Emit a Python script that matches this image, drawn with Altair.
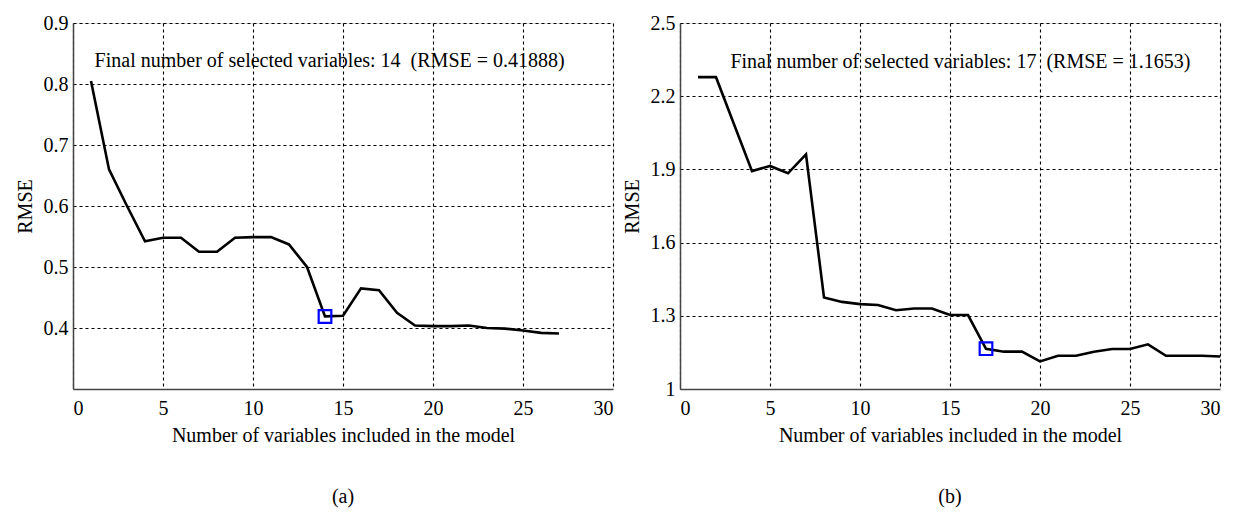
import altair as alt
import pandas as pd

# ---- data ----
n_vars_a = list(range(1, 28))
rmse_a = [0.805, 0.660, 0.600, 0.542, 0.548, 0.548, 0.525, 0.525, 0.548, 0.549,
          0.549, 0.537, 0.500, 0.419, 0.420, 0.465, 0.462, 0.425, 0.404, 0.403,
          0.403, 0.404, 0.400, 0.399, 0.396, 0.392, 0.391]
sel_a = [14]
sel_rmse_a = [0.41888]
note_a = "Final number of selected variables: 14 \u00a0(RMSE = 0.41888)"

n_vars_b = list(range(1, 31))
rmse_b = [2.278, 2.278, 2.085, 1.893, 1.914, 1.884, 1.962, 1.375, 1.357, 1.348,
          1.344, 1.323, 1.330, 1.330, 1.303, 1.303, 1.165, 1.153, 1.153, 1.113,
          1.136, 1.136, 1.153, 1.164, 1.164, 1.183, 1.136, 1.136, 1.136, 1.133]
sel_b = [17]
sel_rmse_b = [1.1653]
note_b = "Final number of selected variables: 17 \u00a0(RMSE = 1.1653)"

x_ticks = [0, 5, 10, 15, 20, 25, 30]
y_ticks_a = [0.4, 0.5, 0.6, 0.7, 0.8, 0.9]
y_ticks_b = [1.0, 1.3, 1.6, 1.9, 2.2, 2.5]

FONT = "Liberation Serif"
FS = 20


def panel(xs, ys, sx, sy, note, note_x, note_y, ydom, yticks, caption, width):
    df = pd.DataFrame({"n": xs, "rmse": ys})
    dsel = pd.DataFrame({"n": sx, "rmse": sy})
    dnote = pd.DataFrame({"n": [note_x], "rmse": [note_y], "t": [note]})

    xenc = alt.X("n:Q", scale=alt.Scale(domain=[0, 30], nice=False),
                 axis=alt.Axis(values=x_ticks, title="Number of variables included in the model",
                               grid=True, gridDash=[3, 3], gridColor="black", gridWidth=1.1,
                               ticks=False, labelPadding=9, titlePadding=7,
                               domainColor="#444", domainWidth=1.5,
                               labelFont=FONT, titleFont=FONT, labelFontSize=FS,
                               titleFontSize=FS, titleFontWeight="normal",
                               labelColor="black", titleColor="black"))
    yenc = alt.Y("rmse:Q", scale=alt.Scale(domain=ydom, nice=False, zero=False),
                 axis=alt.Axis(values=yticks, title="RMSE", format="~g",
                               grid=True, gridDash=[3, 3], gridColor="black", gridWidth=1.1,
                               ticks=False, labelPadding=5, titlePadding=8,
                               domainColor="#444", domainWidth=1.5,
                               labelFont=FONT, titleFont=FONT, labelFontSize=FS,
                               titleFontSize=FS, titleFontWeight="normal",
                               labelColor="black", titleColor="black"))

    line = alt.Chart(df).mark_line(color="black", strokeWidth=2.6).encode(x=xenc, y=yenc)
    pt = alt.Chart(dsel).mark_point(shape="square", size=160, filled=False,
                                    color="#0000ff", strokeWidth=2.2, opacity=1).encode(
        x="n:Q", y="rmse:Q")
    txt = alt.Chart(dnote).mark_text(align="left", baseline="middle", font=FONT,
                                     fontSize=FS, color="black").encode(
        x="n:Q", y="rmse:Q", text="t:N")
    return alt.layer(line, pt, txt).properties(
        width=width, height=366,
        title=alt.TitleParams(caption, orient="bottom", font=FONT, fontSize=FS,
                              fontWeight="normal", color="black", offset=42))


left = panel(n_vars_a, rmse_a, sel_a, sel_rmse_a, note_a, 1.2, 0.838,
             [0.3, 0.9], y_ticks_a, "(a)", 540)
right = panel(n_vars_b, rmse_b, sel_b, sel_rmse_b, note_b, 2.8, 2.34,
              [1.0, 2.5], y_ticks_b, "(b)", 540)

chart = alt.hconcat(left, right, spacing=7).properties(
    padding={"left": 6, "top": 4, "right": 0, "bottom": 0}
).configure_view(stroke=None).configure(background="white")

chart.save("out.html", embed_options={"renderer": "svg", "actions": False})
